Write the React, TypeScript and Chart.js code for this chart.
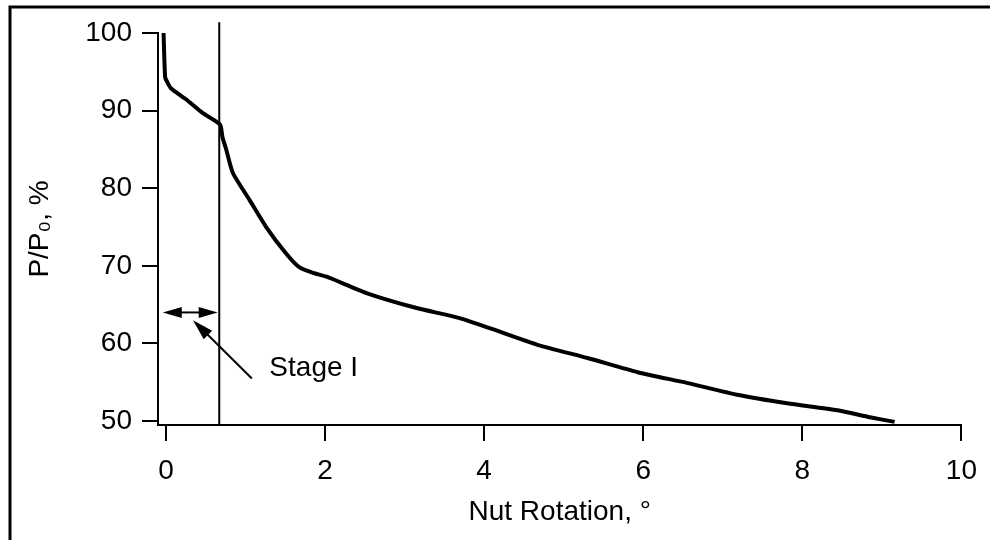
import React, { useEffect, useRef } from "react";
import { Chart, registerables } from "chart.js";

Chart.register(...registerables);

// Main curve: nut rotation (deg) vs P/P0 (%)
const rotation = [-0.03, -0.01, 0.02, 0.06, 0.15, 0.26, 0.46, 0.68, 0.71, 0.76, 0.84, 1.05, 1.26, 1.51, 1.68, 1.85, 2.02, 2.52, 3.14, 3.68, 4.06, 4.68, 5.31, 5.93, 6.56, 7.18, 7.81, 8.44, 8.85, 9.16];
const loadPct = [100, 94.3, 93.6, 92.9, 92.2, 91.4, 89.7, 88.2, 86.6, 84.9, 82.0, 78.5, 75.0, 71.6, 69.8, 69.1, 68.6, 66.5, 64.6, 63.3, 62.0, 59.8, 58.1, 56.3, 54.9, 53.4, 52.3, 51.4, 50.5, 49.9];

// End of Stage I vertical line
const stageLineX = [0.67, 0.67];
const stageLineY = [49.5, 101.4];

// Axis ticks
const xTicks = [0, 2, 4, 6, 8, 10];
const yTicks = [50, 60, 70, 80, 90, 100];

// Annotation: double arrow spanning Stage I, and leader arrow from label
const spanArrowX = [-0.04, 0.3, 0.65]; // left tip, middle, right tip
const spanArrowY = 64;
const leaderX = [1.08, 0.34]; // tail, tip
const leaderY = [55.5, 63.0];
const labelText = "Stage I";
const labelX = 1.3;
const labelY = 56.8;

const FONT = "'Liberation Sans', Arial, Helvetica, sans-serif";

function drawArrow(ctx: CanvasRenderingContext2D, x1: number, y1: number, x2: number, y2: number, len: number, half: number) {
  const a = Math.atan2(y2 - y1, x2 - x1);
  ctx.beginPath();
  ctx.moveTo(x1, y1);
  ctx.lineTo(x2 - Math.cos(a) * len * 0.6, y2 - Math.sin(a) * len * 0.6);
  ctx.stroke();
  ctx.beginPath();
  ctx.moveTo(x2, y2);
  ctx.lineTo(x2 - Math.cos(a) * len - Math.sin(a) * half, y2 - Math.sin(a) * len + Math.cos(a) * half);
  ctx.lineTo(x2 - Math.cos(a) * len + Math.sin(a) * half, y2 - Math.sin(a) * len - Math.cos(a) * half);
  ctx.closePath();
  ctx.fill();
}

const decorPlugin = {
  id: "decor",
  beforeDraw(chart: any) {
    const ctx = chart.ctx;
    ctx.save();
    ctx.fillStyle = "#fff";
    ctx.fillRect(0, 0, chart.width, chart.height);
    ctx.restore();
  },
  afterDraw(chart: any) {
    const ctx: CanvasRenderingContext2D = chart.ctx;
    const xs = chart.scales.x;
    const ys = chart.scales.y;
    ctx.save();
    // outer frame (left and top)
    ctx.strokeStyle = "#000";
    ctx.lineWidth = 3;
    ctx.beginPath();
    ctx.moveTo(10, chart.height);
    ctx.lineTo(10, 7);
    ctx.lineTo(chart.width, 7);
    ctx.stroke();

    ctx.fillStyle = "#000";
    ctx.lineWidth = 2;
    const yA = ys.getPixelForValue(spanArrowY);
    const mid = xs.getPixelForValue(spanArrowX[1]);
    drawArrow(ctx, mid, yA, xs.getPixelForValue(spanArrowX[0]), yA, 19, 5.5);
    drawArrow(ctx, mid, yA, xs.getPixelForValue(spanArrowX[2]), yA, 19, 5.5);
    drawArrow(
      ctx,
      xs.getPixelForValue(leaderX[0]), ys.getPixelForValue(leaderY[0]),
      xs.getPixelForValue(leaderX[1]), ys.getPixelForValue(leaderY[1]),
      21, 6
    );
    ctx.font = `28px ${FONT}`;
    ctx.textAlign = "left";
    ctx.textBaseline = "middle";
    ctx.fillText(labelText, xs.getPixelForValue(labelX), ys.getPixelForValue(labelY));
    ctx.restore();
  },
};

export default function App() {
  const ref = useRef<HTMLCanvasElement>(null);
  useEffect(() => {
    if (!ref.current) return;
    const tickFont = { family: FONT, size: 28 };
    const chart = new Chart(ref.current, {
      type: "scatter",
      data: {
        datasets: [
          {
            data: rotation.map((x, i) => ({ x, y: loadPct[i] })),
            showLine: true,
            borderColor: "#000",
            borderWidth: 4,
            pointRadius: 0,
            tension: 0.2,
            borderJoinStyle: "round",
          },
          {
            data: stageLineX.map((x, i) => ({ x, y: stageLineY[i] })),
            showLine: true,
            borderColor: "#000",
            borderWidth: 2,
            pointRadius: 0,
            clip: false,
          } as any,
        ],
      },
      options: {
        animation: false,
        responsive: false,
        devicePixelRatio: 1,
        layout: { padding: { top: 33, right: 25, left: 0, bottom: 0 } },
        plugins: { legend: { display: false }, tooltip: { enabled: false } },
        scales: {
          x: {
            type: "linear",
            position: "bottom",
            min: -0.1,
            max: 10,
            afterBuildTicks: (s: any) => {
              s.ticks = xTicks.map((v) => ({ value: v }));
            },
            afterFit: (s: any) => {
              s.height = 115;
            },
            border: { display: true, color: "#000", width: 2 },
            grid: { drawOnChartArea: false, drawTicks: true, tickLength: 16, color: "#000", lineWidth: 2 },
            ticks: { color: "#000", font: tickFont, padding: 13, maxRotation: 0, autoSkip: false },
            title: {
              display: true,
              text: "Nut Rotation, °",
              color: "#000",
              font: tickFont,
              padding: { top: 0, bottom: 11 },
            },
          },
          y: {
            type: "linear",
            min: 49.5,
            max: 100,
            afterBuildTicks: (s: any) => {
              s.ticks = yTicks.map((v) => ({ value: v }));
            },
            afterFit: (s: any) => {
              s.width = 158;
            },
            border: { display: true, color: "#000", width: 2 },
            grid: { drawOnChartArea: false, drawTicks: true, tickLength: 16, color: "#000", lineWidth: 2 },
            ticks: { color: "#000", font: tickFont, padding: 10, autoSkip: false },
            title: {
              display: true,
              text: "P/P₀, %",
              color: "#000",
              font: tickFont,
              padding: { top: 23, bottom: 0 },
            },
          },
        },
      },
      plugins: [decorPlugin],
    } as any);
    return () => chart.destroy();
  }, []);
  return (
    <div style={{ position: "absolute", left: 0, top: 0, width: 990, height: 540, background: "#fff" }}>
      <canvas ref={ref} width={990} height={540} style={{ display: "block" }} />
    </div>
  );
}
